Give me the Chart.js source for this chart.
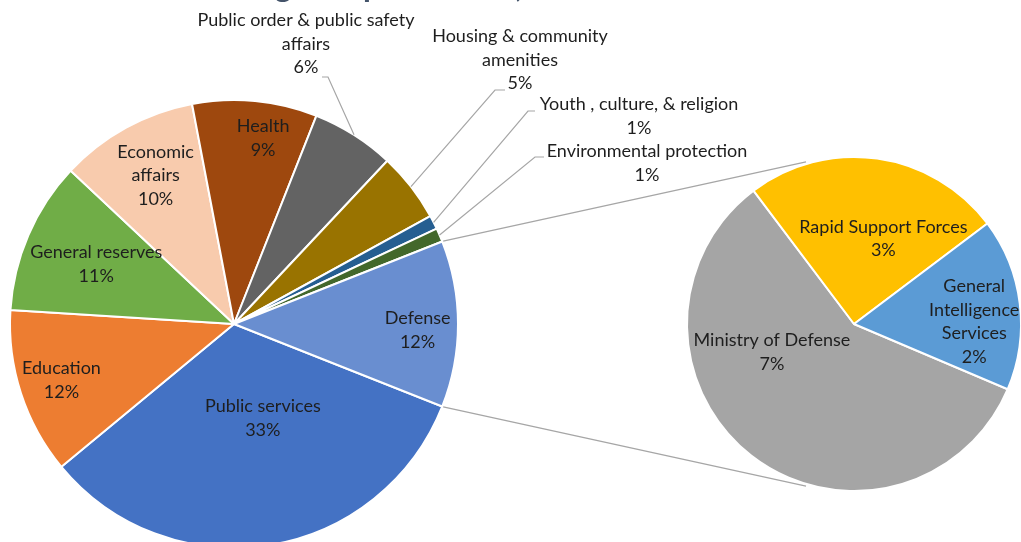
<!DOCTYPE html>
<html>
<head>
<meta charset="utf-8">
<script src="https://cdn.jsdelivr.net/npm/chart.js@4.4.1/dist/chart.umd.min.js"></script>
<style>
  html, body { margin: 0; padding: 0; background: #fff; overflow: hidden; }
  #wrap { position: relative; width: 1021px; height: 542px; overflow: hidden; }
  #wrap canvas { position: absolute; left: 0; top: 0; }
</style>
</head>
<body>
<div id="wrap">
  <canvas id="mainPie" width="1040" height="660"></canvas>
  <canvas id="subPie" width="1040" height="660"></canvas>
</div>
<script>
// budget shares, % of total spending
const mainLabels = [
  "Public services", "Education", "General reserves", "Economic\naffairs", "Health",
  "Public order & public safety\naffairs", "Housing & community\namenities",
  "Youth , culture, & religion", "Environmental protection", "Defense"
];
const mainValues = [33, 12, 11, 10, 9, 6, 5, 1, 1, 12];
const mainColors = [
  "#4472C4", "#ED7D31", "#70AD47", "#F8CBAD", "#9E480E",
  "#636363", "#997300", "#255E91", "#43682B", "#698ED0"
];

// breakdown of the defense slice
const subLabels = ["Ministry of Defense", "Rapid Support Forces", "General\nIntelligence\nServices"];
const subValues = [7, 3, 2];
const subColors = ["#A5A5A5", "#FFC000", "#5B9BD5"];

const chartTitle = "Structure of Budget Expenditures, %";

const FONT = "18px Lato";
const LINE_H = 23.5;
const TEXT_COLOR = "#1e1e1e";
const LEADER_COLOR = "#A6A6A6";

const total = mainValues.reduce((a, b) => a + b, 0);
const pct = v => Math.round(v / total * 100) + "%";

// label placement: inside slices (angle shift in degrees, radius fraction)
// or outside with a leader line (text centre + where the leader meets the text)
const mainSpots = [
  { da: -8, rf: 0.44 },
  { da: 0, rf: 0.81 },
  { da: 0, rf: 0.67 },
  { da: 1, rf: 0.75 },
  { da: 3.5, rf: 0.84 },
  { out: true, x: 306, y: 44, ex: 322, ey: 77, kx: 328 },
  { out: true, x: 520, y: 60, ex: 505, ey: 90, kx: 495 },
  { out: true, x: 639, y: 116, ex: 535, ey: 111, kx: 528 },
  { out: true, x: 647, y: 163, ex: 544, ey: 157, kx: 535 },
  { da: 2, rf: 0.82 }
];
const subSpots = [
  { da: 33, rf: 0.52 },
  { da: 11, rf: 0.54 },
  { da: 6, rf: 0.72 }
];

function drawBlock(ctx, lines, cx, cy) {
  ctx.save();
  ctx.font = FONT;
  ctx.fillStyle = TEXT_COLOR;
  ctx.textAlign = "center";
  ctx.textBaseline = "middle";
  const y0 = cy - (lines.length - 1) * LINE_H / 2;
  lines.forEach((t, i) => ctx.fillText(t, cx, y0 + i * LINE_H));
  ctx.restore();
}

function arcPoint(el, angle, r) {
  return { x: el.x + Math.cos(angle) * r, y: el.y + Math.sin(angle) * r };
}

function makeLabelPlugin(labels, values, spots) {
  return {
    id: "sliceLabels",
    afterDatasetsDraw(chart) {
      const ctx = chart.ctx;
      const arcs = chart.getDatasetMeta(0).data;
      arcs.forEach((el, i) => {
        const s = spots[i];
        const lines = labels[i].split("\n").concat(pct(values[i]));
        const mid = (el.startAngle + el.endAngle) / 2;
        if (s.out) {
          const edge = arcPoint(el, mid, el.outerRadius);
          ctx.save();
          ctx.strokeStyle = LEADER_COLOR;
          ctx.lineWidth = 1.2;
          ctx.beginPath();
          ctx.moveTo(edge.x, edge.y);
          ctx.lineTo(s.kx, s.ey);
          ctx.lineTo(s.ex, s.ey);
          ctx.stroke();
          ctx.restore();
          drawBlock(ctx, lines, s.x, s.y);
        } else {
          const p = arcPoint(el, mid + s.da * Math.PI / 180, el.outerRadius * s.rf);
          drawBlock(ctx, lines, p.x, p.y);
        }
      });
    }
  };
}

const titlePlugin = {
  id: "topTitle",
  afterDraw(chart) {
    const ctx = chart.ctx;
    ctx.save();
    ctx.font = "bold 32px Lato";
    ctx.fillStyle = "#44546A";
    ctx.textAlign = "left";
    ctx.textBaseline = "alphabetic";
    ctx.fillText(chartTitle, 40, -3);
    ctx.restore();
  }
};

const mainChart = new Chart(document.getElementById("mainPie"), {
  type: "pie",
  data: {
    labels: mainLabels,
    datasets: [{
      data: mainValues,
      backgroundColor: mainColors,
      borderColor: "#ffffff",
      borderWidth: 2
    }]
  },
  options: {
    responsive: false,
    animation: false,
    // centre the last slice (defense) on the right-hand side
    rotation: 90 + mainValues[mainValues.length - 1] / total * 180,
    layout: { padding: { left: 9, top: 99, right: 581, bottom: 111 } },
    plugins: { legend: { display: false }, tooltip: { enabled: false } }
  },
  plugins: [makeLabelPlugin(mainLabels, mainValues, mainSpots), titlePlugin]
});

// grey connector lines from the defense slice to the breakdown pie
const connectorPlugin = {
  id: "connectors",
  beforeDatasetsDraw(chart) {
    const ctx = chart.ctx;
    const arcs = mainChart.getDatasetMeta(0).data;
    const def = arcs[arcs.length - 1];
    const sub = chart.getDatasetMeta(0).data[0];
    const tilt = 16.5 * Math.PI / 180;
    const a = arcPoint(def, def.startAngle, def.outerRadius + 1);
    const b = arcPoint(def, def.endAngle, def.outerRadius + 1);
    const topEnd = arcPoint(sub, -Math.PI / 2 - tilt, sub.outerRadius + 2);
    const botEnd = arcPoint(sub, Math.PI / 2 + tilt, sub.outerRadius + 2);
    ctx.save();
    ctx.strokeStyle = LEADER_COLOR;
    ctx.lineWidth = 1.3;
    ctx.beginPath();
    ctx.moveTo(a.x, a.y); ctx.lineTo(topEnd.x, topEnd.y);
    ctx.moveTo(b.x, b.y); ctx.lineTo(botEnd.x, botEnd.y);
    ctx.stroke();
    ctx.restore();
  }
};

new Chart(document.getElementById("subPie"), {
  type: "pie",
  data: {
    labels: subLabels,
    datasets: [{
      data: subValues,
      backgroundColor: subColors,
      borderColor: "#ffffff",
      borderWidth: 2
    }]
  },
  options: {
    responsive: false,
    animation: false,
    rotation: 113,
    layout: { padding: { left: 686, top: 156, right: 18, bottom: 168 } },
    plugins: { legend: { display: false }, tooltip: { enabled: false } }
  },
  plugins: [connectorPlugin, makeLabelPlugin(subLabels, subValues, subSpots)]
});
</script>
</body>
</html>
